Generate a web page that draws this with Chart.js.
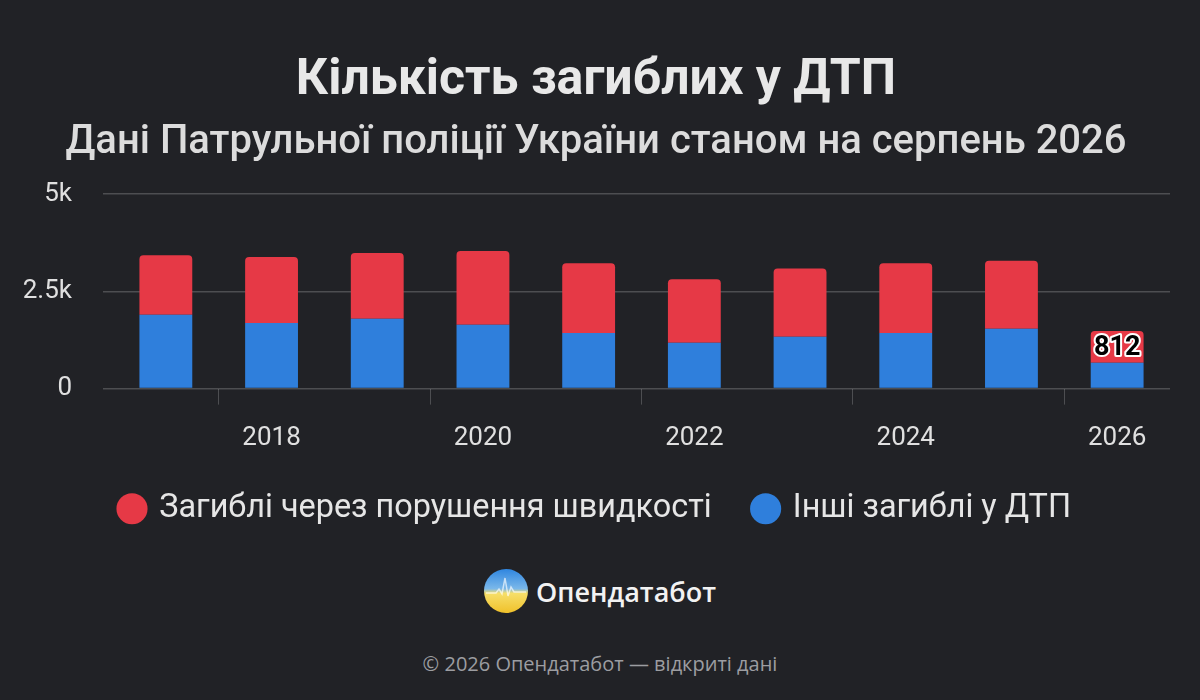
<!DOCTYPE html>
<html>
<head>
<meta charset="utf-8">
<script src="https://cdn.jsdelivr.net/npm/chart.js@4"></script>
<style>
  html, body { margin: 0; padding: 0; background: #212226; }
  body { width: 1200px; height: 700px; position: relative; overflow: hidden; font-family: Roboto, "Noto Sans", sans-serif; }
  #wrap { position: absolute; left: 0; top: 0; width: 1200px; height: 535px; }
  #brand { position: absolute; left: 0; width: 1200px; top: 569px; text-align: center; height: 46px; }
  #brand svg { vertical-align: middle; margin-right: 8px; }
  #brand span.name { font-family: "Open Sans", Roboto, sans-serif; font-weight: 600; font-size: 27px; color: #f2f2f2; vertical-align: middle; }
  #footer { position: absolute; left: 0; width: 1200px; top: 650px; text-align: center; font-size: 20px; color: #9c9da1; font-family: "Open Sans", Roboto, sans-serif; }
</style>
</head>
<body>
<div id="wrap"><canvas id="c"></canvas></div>
<div id="brand"><svg width="44" height="44" viewBox="0 0 44 44">
  <defs>
    <linearGradient id="g" x1="0" y1="0" x2="0" y2="1">
      <stop offset="0" stop-color="#2f86e0"/>
      <stop offset="0.45" stop-color="#7bb8ea"/>
      <stop offset="0.55" stop-color="#f6df6a"/>
      <stop offset="1" stop-color="#f0c12a"/>
    </linearGradient>
  </defs>
  <circle cx="22" cy="22" r="22" fill="url(#g)"/>
  <polyline points="2,24 12,24 15,20 18,25 21,9 24,27 27,18 30,23 42,23" fill="none" stroke="#ffffff" stroke-opacity="0.65" stroke-width="1.5"/>
</svg><span class="name">Опендатабот</span></div>
<div id="footer">© 2026 Опендатабот — відкриті дані</div>
<script>
const years = ['2017','2018','2019','2020','2021','2022','2023','2024','2025','2026'];
const speedDeaths = [1531, 1700, 1692, 1897, 1795, 1633, 1752, 1795, 1744, 812];
const otherDeaths = [1897, 1684, 1795, 1641, 1428, 1179, 1333, 1428, 1538, 667];
const yTickValues = [0, 2500, 5000];
const yTickLabels = ['0', '2.5k', '5k'];
const seriesNames = ['Загиблі через порушення швидкості', 'Інші загиблі у ДТП'];
const titleText = 'Кількість загиблих у ДТП';
const subtitleText = 'Дані Патрульної поліції України станом на серпень 2026';
const labelIndex = 9;

const RED = '#e63946';
const BLUE = '#2f7fdc';

const labelPlugin = {
  id: 'lastLabel',
  afterDatasetsDraw(chart) {
    const meta = chart.getDatasetMeta(1);
    const el = meta.data[labelIndex];
    if (!el) return;
    const ctx = chart.ctx;
    const props = el.getProps(['x','y','base'], true);
    const cy = (props.y + props.base) / 2;
    ctx.save();
    ctx.font = 'bold 27px Roboto, sans-serif';
    ctx.textAlign = 'center';
    ctx.textBaseline = 'middle';
    ctx.lineWidth = 4;
    ctx.strokeStyle = '#ffffff';
    ctx.lineJoin = 'round';
    const txt = String(speedDeaths[labelIndex]);
    ctx.strokeText(txt, props.x, cy + 1);
    ctx.fillStyle = '#000000';
    ctx.fillText(txt, props.x, cy + 1);
    ctx.restore();
  }
};

new Chart(document.getElementById('c'), {
  type: 'bar',
  data: {
    labels: years,
    datasets: [
      { label: seriesNames[1], data: otherDeaths, backgroundColor: BLUE, borderRadius: 0, borderSkipped: false,
        barPercentage: 0.5, categoryPercentage: 1.0 },
      { label: seriesNames[0], data: speedDeaths, backgroundColor: RED,
        borderRadius: {topLeft: 4, topRight: 4, bottomLeft: 0, bottomRight: 0}, borderSkipped: false,
        barPercentage: 0.5, categoryPercentage: 1.0 }
    ]
  },
  options: {
    responsive: true,
    maintainAspectRatio: false,
    animation: false,
    layout: { padding: { left: 22, right: 30, top: 0, bottom: 0 } },
    plugins: {
      title: { display: true, text: titleText, color: '#e8e8e8',
        font: { family: 'Roboto, sans-serif', size: 50, weight: 'bold' }, padding: { top: 51, bottom: 8 } },
      subtitle: { display: true, text: subtitleText, color: '#dcdcdc',
        font: { family: 'Roboto, sans-serif', size: 40, weight: '500' }, padding: { top: 0, bottom: 27 } },
      legend: { position: 'bottom', reverse: true,
        labels: { usePointStyle: true, pointStyle: 'circle', boxWidth: 22, boxHeight: 22, padding: 43,
          color: '#e6e6e6', font: { family: 'Roboto, sans-serif', size: 32.4 } } },
      tooltip: { enabled: false }
    },
    scales: {
      x: {
        stacked: true,
        afterFit: (axis) => { axis.height = 61; },
        grid: { drawOnChartArea: false, drawTicks: true, tickLength: 16,
          color: (c) => (c.index % 2 === 1 ? 'rgba(255,255,255,0.2)' : 'rgba(0,0,0,0)') },
        border: { display: false },
        ticks: { color: '#e0e0e0', font: { family: 'Roboto, sans-serif', size: 26 }, padding: 18, maxRotation: 0, autoSkip: false,
          callback: (v, i) => (i % 2 === 1 ? years[i] : '') }
      },
      y: {
        stacked: true,
        min: 0, max: 5000,
        afterFit: (axis) => { axis.width = 91; },
        afterBuildTicks: (axis) => { axis.ticks = yTickValues.map(v => ({ value: v })); },
        grid: { color: 'rgba(255,255,255,0.2)', lineWidth: 1.5, tickLength: 10 },
        border: { display: false },
        ticks: { color: '#e0e0e0', font: { family: 'Roboto, sans-serif', size: 26 }, padding: 31,
          callback: (v) => yTickLabels[yTickValues.indexOf(v)] }
      }
    }
  },
  plugins: [labelPlugin]
});
</script>
</body>
</html>
